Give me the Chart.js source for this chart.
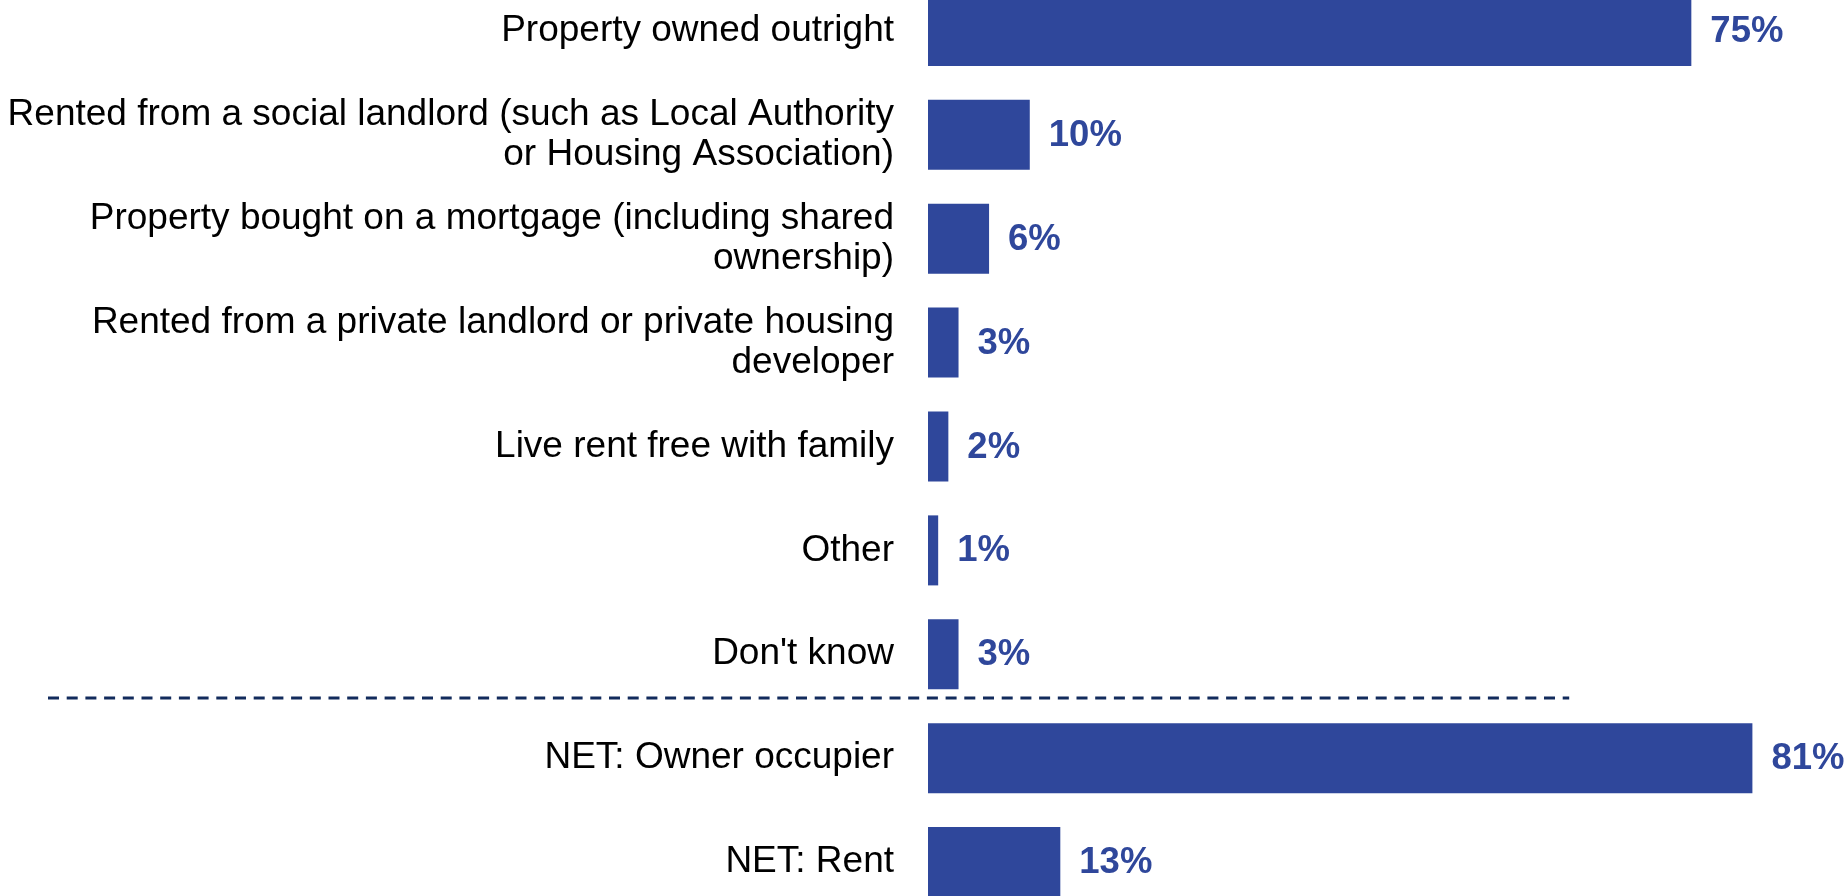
<!DOCTYPE html>
<html>
<head>
<meta charset="utf-8">
<script src="https://cdn.jsdelivr.net/npm/chart.js@4/dist/chart.umd.min.js"></script>
<style>
  html, body { margin: 0; padding: 0; background: #fff; overflow: hidden; }
  #wrap { position: absolute; left: 0; top: -21px; width: 1844px; height: 935px; }
</style>
</head>
<body>
<div id="wrap"><canvas id="chart"></canvas></div>
<script>
const categories = [
    'Property owned outright',
    ['Rented from a social landlord (such as Local Authority', 'or Housing Association)'],
    ['Property bought on a mortgage (including shared', 'ownership)'],
    ['Rented from a private landlord or private housing', 'developer'],
    'Live rent free with family',
    'Other',
    "Don't know",
    'NET: Owner occupier',
    'NET: Rent'
];
const shares = [75, 10, 6, 3, 2, 1, 3, 81, 13];
const valueLabels = ['75%', '10%', '6%', '3%', '2%', '1%', '3%', '81%', '13%'];

const barColour = '#2F479B';

// value labels at the end of each bar
const valueLabelPlugin = {
    id: 'valueLabels',
    afterDatasetsDraw(chart) {
        const ctx = chart.ctx;
        const meta = chart.getDatasetMeta(0);
        ctx.save();
        ctx.font = 'bold 36.5px "Liberation Sans", Arial, sans-serif';
        ctx.fillStyle = barColour;
        ctx.textAlign = 'left';
        ctx.textBaseline = 'middle';
        meta.data.forEach(function (bar, i) {
            ctx.fillText(valueLabels[i], bar.x + 19, bar.y + 1);
        });
        ctx.restore();
    }
};

// dashed divider between the single answers and the NET rows
const dividerPlugin = {
    id: 'divider',
    afterDraw(chart) {
        const ctx = chart.ctx;
        const y = chart.scales.y.getPixelForValue(6.42);
        const xEnd = chart.scales.x.getPixelForValue(63);
        ctx.save();
        ctx.strokeStyle = '#122B5C';
        ctx.lineWidth = 3;
        ctx.setLineDash([11, 7.7]);
        ctx.beginPath();
        ctx.moveTo(48, y);
        ctx.lineTo(xEnd, y);
        ctx.stroke();
        ctx.restore();
    }
};

const ctx = document.getElementById('chart').getContext('2d');
new Chart(ctx, {
    type: 'bar',
    data: {
        labels: categories,
        datasets: [{
            data: shares,
            backgroundColor: barColour,
            borderWidth: 0,
            categoryPercentage: 1,
            barPercentage: 0.674
        }]
    },
    options: {
        indexAxis: 'y',
        responsive: true,
        maintainAspectRatio: false,
        animation: false,
        layout: { padding: 0 },
        plugins: {
            legend: { display: false },
            tooltip: { enabled: false }
        },
        scales: {
            x: {
                min: 0,
                max: 90,
                display: false
            },
            y: {
                grid: { display: false, drawTicks: false },
                border: { display: false },
                ticks: {
                    color: '#000',
                    padding: 34,
                    font: { family: '"Liberation Sans", Arial, sans-serif', size: 37, lineHeight: 1.08 }
                },
                afterFit(scale) {
                    scale.width = 928;
                    scale.paddingTop = 0;
                    scale.paddingBottom = 0;
                }
            }
        }
    },
    plugins: [valueLabelPlugin, dividerPlugin]
});
</script>
</body>
</html>
